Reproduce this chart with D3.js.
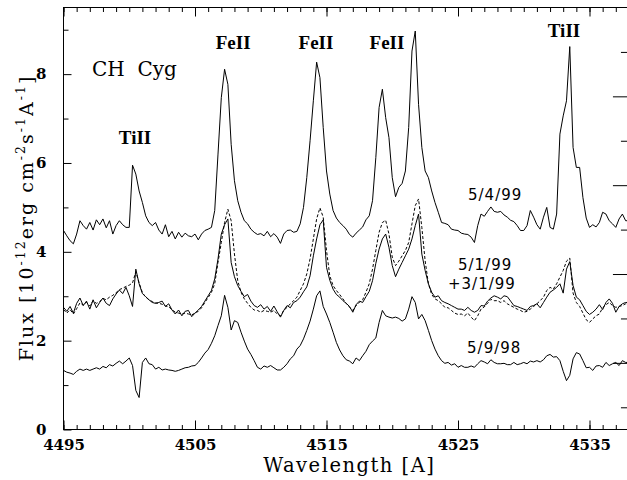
<!DOCTYPE html>
<html>
<head>
<meta charset="utf-8">
<script src="https://cdn.jsdelivr.net/npm/d3@7"></script>
<style>
  html, body { margin: 0; padding: 0; background: #fff; }
  svg { display: block; }
</style>
</head>
<body>
<svg id="chart" width="627" height="480"></svg>
<script>
/* CH Cyg spectra around 4495-4538 A on a 0.25 A grid */

// wavelength grid (A), 4495.00 ... 4538.00
const wavelength = d3.range(4495, 4538.01, 0.25);

// 5/4/99
const flux_5_4_99 = [
  4.48, 4.36, 4.25, 4.18, 4.40, 4.70, 4.59, 4.51, 4.66, 4.49,
  4.72, 4.61, 4.74, 4.54, 4.70, 4.40, 4.59, 4.70, 4.61, 4.55,
  4.55, 5.95, 5.75, 5.37, 5.11, 4.81, 4.66, 4.59, 4.66, 4.49,
  4.40, 4.61, 4.34, 4.46, 4.29, 4.44, 4.33, 4.42, 4.36, 4.34,
  4.40, 4.27, 4.40, 4.48, 4.51,
  4.55, 4.93, 6.20, 7.47, 8.11, 7.77, 6.42, 5.60, 5.15, 4.89,
  4.70, 4.63, 4.51, 4.44, 4.39, 4.41, 4.36, 4.46, 4.34, 4.41,
  4.33, 4.19, 4.40, 4.48, 4.49, 4.44, 4.46, 4.63, 5.00, 5.67,
  6.50, 7.40, 8.27, 7.92, 6.80, 5.82, 5.30, 4.93, 4.76, 4.66,
  4.59, 4.51,
  4.39, 4.33, 4.42, 4.49, 4.56, 4.72, 4.81, 5.15, 6.12, 7.25,
  7.66, 7.02, 6.57, 5.67, 5.24, 5.45, 5.54, 5.82, 6.80, 8.52,
  8.97, 7.32, 6.35, 5.82, 5.67, 5.37, 5.11, 4.89, 4.66, 4.64,
  4.61, 4.51, 4.49, 4.48, 4.42, 4.40, 4.39, 4.33, 4.21, 4.59,
  4.85, 4.80,
  4.91, 5.01, 4.91, 4.89, 4.91, 4.83, 4.78, 4.71, 4.68, 4.59,
  4.48, 4.48, 4.59, 4.93, 4.78, 4.61, 4.51, 4.78, 5.00, 4.55,
  4.51, 4.85, 6.65, 7.06, 7.40, 8.62, 6.35, 5.90, 5.90, 5.22,
  4.76, 4.55, 4.61, 4.56, 4.66, 4.89, 4.85, 4.70, 4.63, 4.55,
  4.74, 4.85, 4.70, 4.70
];

// 5/1/99 (solid)
const flux_5_1_99 = [
  2.75, 2.66, 2.77, 2.62, 2.84, 2.96, 2.79, 2.89, 2.71, 2.92,
  2.74, 2.86, 2.96, 2.84, 2.79, 2.94, 3.05, 3.14, 3.06, 3.20,
  3.01, 2.77, 3.61, 3.28, 3.06, 2.99, 2.92, 2.86, 2.84, 2.86,
  2.89, 2.77, 2.83, 2.69, 2.60, 2.69, 2.56, 2.66, 2.68, 2.54,
  2.62, 2.69, 2.77, 2.89, 3.01,
  3.13, 3.39, 3.84, 4.40, 4.61, 4.74, 3.76, 3.44, 3.24, 3.11,
  2.99, 3.04, 2.89, 2.79, 2.75, 2.81, 2.71, 2.77, 2.66, 2.78,
  2.65, 2.53, 2.68, 2.79, 2.74, 2.86, 2.90, 2.98, 3.10, 3.21,
  3.46, 3.91, 4.29, 4.61, 4.72, 3.65, 3.36, 3.16, 3.04, 2.98,
  2.90, 2.84,
  2.77, 2.64, 2.81, 2.89, 2.86, 2.99, 3.11, 3.35, 3.74, 4.06,
  4.29, 4.40, 4.10, 3.69, 3.44, 3.61, 3.76, 3.91, 4.06, 4.29,
  4.59, 4.85, 3.95, 3.58, 3.28, 3.09, 2.98, 3.01, 2.90, 2.86,
  2.83, 2.79, 2.75, 2.71, 2.71, 2.68, 2.75, 2.68, 2.64, 2.68,
  2.79, 2.78,
  2.89, 2.96, 3.01, 2.98, 2.94, 3.01, 2.99, 2.89, 2.79, 2.77,
  2.74, 2.71, 2.68, 2.77, 2.79, 2.83, 2.74, 2.86, 2.98, 3.09,
  3.14, 3.20, 3.28, 3.07, 3.61, 3.78, 3.24, 2.98, 2.92, 2.79,
  2.66, 2.59, 2.64, 2.71, 2.81, 2.70, 2.86, 2.94, 2.84, 2.64,
  2.77, 2.83, 2.86, 2.86
];

// 3/1/99 (dashed)
const flux_3_1_99 = [
  2.70, 2.62, 2.70, 2.60, 2.72, 2.85, 2.80, 2.86, 2.78, 2.90,
  2.84, 2.88, 2.95, 2.92, 2.98, 3.02, 3.08, 3.15, 3.18, 3.22,
  3.25, 3.30, 3.55, 3.30, 3.08, 2.98, 2.92, 2.88, 2.85, 2.84,
  2.82, 2.78, 2.76, 2.70, 2.64, 2.62, 2.60, 2.62, 2.60, 2.58,
  2.62, 2.66, 2.74, 2.86, 2.97,
  3.09, 3.28, 3.76, 4.21, 4.66, 4.96, 4.70, 3.95, 3.35, 3.09,
  2.94, 2.84, 2.75, 2.69, 2.68, 2.64, 2.68, 2.66, 2.64, 2.68,
  2.60, 2.56, 2.68, 2.75, 2.83, 2.90, 2.98, 3.13, 3.28, 3.50,
  3.84, 4.29, 4.74, 4.99, 4.78, 4.03, 3.46, 3.24, 3.13, 3.04,
  2.94, 2.84,
  2.75, 2.68, 2.79, 2.86, 2.92, 3.09, 3.28, 3.61, 4.03, 4.44,
  4.66, 4.71, 4.40, 3.88, 3.69, 3.79, 3.91, 4.03, 4.21, 4.63,
  5.04, 5.19, 4.55, 3.80, 3.28, 3.04, 2.94, 2.90, 2.83, 2.75,
  2.74, 2.68, 2.62, 2.59, 2.60, 2.56, 2.62, 2.53, 2.45, 2.56,
  2.71, 2.76,
  2.84, 2.93, 2.90, 2.90, 2.86, 2.90, 2.83, 2.79, 2.75, 2.71,
  2.68, 2.64, 2.66, 2.71, 2.77, 2.83, 2.90, 2.98, 3.13, 3.20,
  3.16, 3.28, 3.43, 3.58, 3.79, 3.86, 3.07, 2.86, 2.77, 2.62,
  2.47, 2.41, 2.49, 2.56, 2.60, 2.74, 2.81, 2.86, 2.79, 2.75,
  2.77, 2.79, 2.83, 2.83
];

// 5/9/98
const flux_5_9_98 = [
  1.33, 1.29, 1.27, 1.24, 1.31, 1.36, 1.33, 1.36, 1.33, 1.36,
  1.39, 1.36, 1.42, 1.39, 1.46, 1.43, 1.49, 1.54, 1.48, 1.54,
  1.61, 1.44, 0.88, 0.72, 1.51, 1.61, 1.48, 1.46, 1.36, 1.40,
  1.34, 1.36, 1.34, 1.33, 1.31, 1.33, 1.36, 1.39, 1.40, 1.43,
  1.44, 1.51, 1.61, 1.72, 1.80,
  1.94, 2.11, 2.34, 2.56, 3.02, 2.75, 2.24, 2.45, 2.41, 2.19,
  1.99, 1.81, 1.69, 1.55, 1.40, 1.36, 1.43, 1.40, 1.44, 1.39,
  1.34, 1.34, 1.40, 1.48, 1.59, 1.66, 1.81, 1.89, 2.04, 2.23,
  2.44, 2.71, 3.01, 3.12, 2.77, 2.60, 2.41, 2.19, 1.96, 1.79,
  1.66, 1.57,
  1.54, 1.48, 1.61, 1.55, 1.66, 1.76, 1.91, 1.99, 2.06, 2.41,
  2.68, 2.56, 2.53, 2.51, 2.53, 2.50, 2.44, 2.49, 2.71, 2.99,
  2.86, 2.49, 2.59, 2.45, 2.23, 2.00, 1.81, 1.66, 1.55, 1.49,
  1.51, 1.45, 1.48, 1.40, 1.44, 1.40, 1.40, 1.43, 1.40, 1.48,
  1.55, 1.52,
  1.48, 1.57, 1.51, 1.48, 1.48, 1.49, 1.46, 1.46, 1.51, 1.46,
  1.48, 1.51, 1.48, 1.54, 1.52, 1.55, 1.52, 1.57, 1.66, 1.69,
  1.63, 1.64, 1.55, 1.31, 1.10, 1.22, 1.59, 1.73, 1.70, 1.55,
  1.39, 1.40, 1.33, 1.43, 1.44, 1.40, 1.51, 1.44, 1.48, 1.51,
  1.44, 1.55, 1.51, 1.51
];

// tick values
const xMajorTicks = [4495, 4505, 4515, 4525, 4535];
const xMinorTicks = d3.range(4495, 4539, 1);
const yMajorTicks = [0, 2, 4, 6, 8];
const yMinorTicks = [1, 3, 5, 7, 9];
const rightMajorTicks = [1.5, 3.5, 5.5, 7.5];
const rightMinorTicks = [0.5, 2.5, 4.5, 6.5, 8.5];

// line identifications: name, wavelength, flux of text baseline
const lineNames = ["TiII", "FeII", "FeII", "FeII", "TiII"];
const lineNameWl = [4500.44, 4507.9, 4514.2, 4519.6, 4533.06];
const lineNameFlux = [6.43, 8.57, 8.57, 8.57, 8.84];

// date labels: text, start wavelength, baseline flux
const dateLabels = ["5/4/99", "5/1/99", "+3/1/99", "5/9/98"];
const dateLabelWl = [4525.76, 4525.0, 4524.24, 4525.69];
const dateLabelFlux = [5.17, 3.60, 3.16, 1.72];


function main() {
  const svg = d3.select("#chart");
  const serif = "'DejaVu Serif', serif";

  const x = d3.scaleLinear()
    .domain([4495, 4538])
    .range([63.5, 63.5 + 43 * 13.15]);
  const y = d3.scaleLinear()
    .domain([0, 9.5])
    .range([429.5, 7.5]);

  const [x0, x1] = x.range();
  const [yb, yt] = y.range();

  // frame
  svg.append("rect")
    .attr("x", x0).attr("y", yt)
    .attr("width", x1 - x0).attr("height", yb - yt)
    .attr("fill", "none").attr("stroke", "#000").attr("stroke-width", 1);

  const tickAxis = (g, axis) => {
    g.call(axis);
    g.select(".domain").remove();
    g.selectAll(".tick line").attr("stroke", "#000");
    return g;
  };

  // bottom
  svg.append("g").attr("transform", `translate(0,${yb})`)
    .call((g) => tickAxis(g, d3.axisBottom(x).tickValues(xMinorTicks)
      .tickSize(-4.5).tickFormat("")));
  const xLab = svg.append("g").attr("transform", `translate(0,${yb})`)
    .call((g) => tickAxis(g, d3.axisBottom(x).tickValues(xMajorTicks)
      .tickSize(-9).tickPadding(10).tickFormat(d3.format("d"))));
  xLab.selectAll("text")
    .attr("font-family", serif).attr("font-size", 15)
    .attr("font-weight", "bold").attr("fill", "#000");

  // top
  svg.append("g").attr("transform", `translate(0,${yt})`)
    .call((g) => tickAxis(g, d3.axisTop(x).tickValues(xMinorTicks)
      .tickSize(-4.5).tickFormat("")));
  svg.append("g").attr("transform", `translate(0,${yt})`)
    .call((g) => tickAxis(g, d3.axisTop(x).tickValues(xMajorTicks)
      .tickSize(-9).tickFormat("")));

  // left
  svg.append("g").attr("transform", `translate(${x0},0)`)
    .call((g) => tickAxis(g, d3.axisLeft(y).tickValues(yMinorTicks)
      .tickSize(-5).tickFormat("")));
  const yLab = svg.append("g").attr("transform", `translate(${x0},0)`)
    .call((g) => tickAxis(g, d3.axisLeft(y).tickValues(yMajorTicks)
      .tickSize(-8).tickPadding(17).tickFormat(d3.format("d"))));
  yLab.selectAll("text")
    .attr("font-family", serif).attr("font-size", 15)
    .attr("font-weight", "bold").attr("fill", "#000");

  // right (offset by half a unit)
  svg.append("g").attr("transform", `translate(${x1},0)`)
    .call((g) => tickAxis(g, d3.axisRight(y).tickValues(rightMinorTicks)
      .tickSize(-8).tickFormat("")));
  svg.append("g").attr("transform", `translate(${x1},0)`)
    .call((g) => tickAxis(g, d3.axisRight(y).tickValues(rightMajorTicks)
      .tickSize(-16).tickFormat("")));

  // spectra
  const line = d3.line()
    .x((d, i) => x(wavelength[i]))
    .y((d) => y(d));

  const spectra = [
    {values: flux_5_4_99, dash: null},
    {values: flux_5_1_99, dash: null},
    {values: flux_3_1_99, dash: "3,2"},
    {values: flux_5_9_98, dash: null},
  ];
  for (const s of spectra) {
    svg.append("path")
      .datum(s.values)
      .attr("fill", "none")
      .attr("stroke", "#000")
      .attr("stroke-width", 1)
      .attr("stroke-linejoin", "round")
      .attr("stroke-dasharray", s.dash)
      .attr("d", line);
  }

  // star name
  svg.append("text")
    .attr("x", x(4497.17)).attr("y", y(7.96))
    .attr("font-family", serif).attr("font-size", 20)
    .style("white-space", "pre")
    .text("CH  Cyg");

  // line identifications
  svg.append("g").selectAll("text")
    .data(lineNames)
    .join("text")
    .attr("x", (d, i) => x(lineNameWl[i]))
    .attr("y", (d, i) => y(lineNameFlux[i]))
    .attr("text-anchor", "middle")
    .attr("font-family", "'Liberation Serif', serif")
    .attr("font-weight", "bold")
    .attr("font-size", 19)
    .text((d) => d);

  // dates
  svg.append("g").selectAll("text")
    .data(dateLabels)
    .join("text")
    .attr("x", (d, i) => x(dateLabelWl[i]))
    .attr("y", (d, i) => y(dateLabelFlux[i]))
    .attr("font-family", "'DejaVu Sans', sans-serif")
    .attr("font-size", 15)
    .attr("letter-spacing", 1)
    .text((d) => d);

  // axis titles
  svg.append("text")
    .attr("x", (x0 + 627) / 2 + 4).attr("y", 472)
    .attr("text-anchor", "middle")
    .attr("font-family", serif).attr("font-size", 19.5)
    .attr("letter-spacing", 1.5)
    .text("Wavelength [A]");

  const yTitle = svg.append("text")
    .attr("transform", "translate(33,218) rotate(-90)")
    .attr("text-anchor", "middle")
    .attr("font-family", serif).attr("font-size", 19)
    .attr("letter-spacing", 2)
    .style("white-space", "pre");
  const parts = [
    ["Flux [10", 0], ["-12", 1], ["erg cm", 0], ["-2", 1],
    ["s", 0], ["-1", 1], ["A", 0], ["-1", 1], ["]", 0],
  ];
  let up = false;
  for (const [t, sup] of parts) {
    const ts = yTitle.append("tspan").text(t);
    if (sup && !up) { ts.attr("dy", -8).attr("font-size", 12.5); up = true; }
    else if (sup) { ts.attr("font-size", 12.5); }
    else if (up) { ts.attr("dy", 8); up = false; }
  }

  return svg.node();
}

window.onload = main;
</script>
</body>
</html>
